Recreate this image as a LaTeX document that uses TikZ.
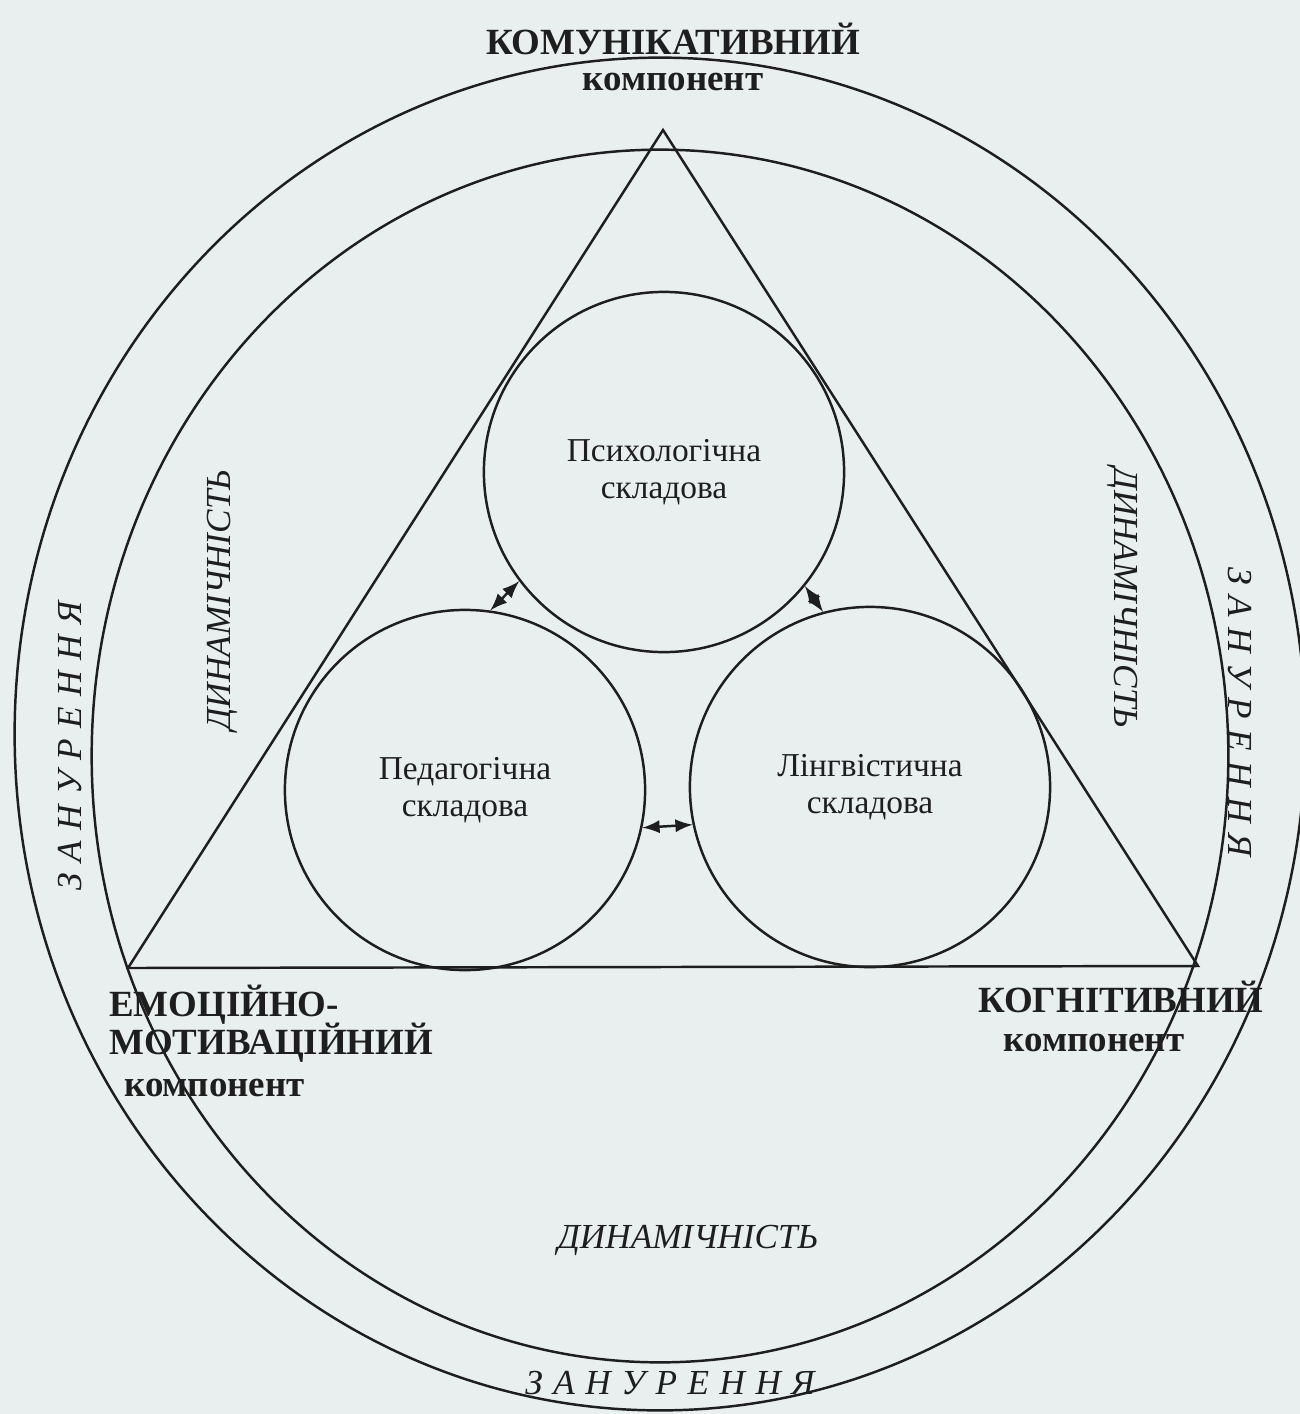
\documentclass[tikz,border=0pt]{standalone}
\usepackage{fontspec}
\setmainfont{Liberation Serif}
\usetikzlibrary{arrows, positioning}

\definecolor{paper}{HTML}{E9EEEE}
\definecolor{ink}{HTML}{1E1E1E}

\tikzset{
  comp/.style={font=\fontsize{10.5}{11.5}\selectfont\bfseries, inner sep=0pt},
  sub/.style={font=\fontsize{10.5}{11.5}\selectfont\bfseries, inner sep=0pt},
  part/.style={draw, circle, minimum size=3.6cm, align=center,
    font=\fontsize{9.5}{10.5}\selectfont},
  dyn/.style={font=\fontsize{10}{11}\selectfont\itshape, inner sep=0pt},
  zan/.style={font=\fontsize{10}{11}\selectfont\itshape\addfontfeature{LetterSpace=30}, inner sep=0pt}
}

\begin{document}
\begin{tikzpicture}[x=0.01cm, y=-0.01cm, line width=0.7pt, color=ink, >=latex]
  \useasboundingbox (0,0) rectangle (1300,1414);
  \fill[paper] (0,0) rectangle (1300,1414);
  % outer rings
  \draw (660,734) ellipse [x radius=6.45cm, y radius=6.76cm];
  \draw (660,756) ellipse [x radius=5.68cm, y radius=6.06cm];
  % triangle of the components
  \coordinate (apex) at (663,130);
  \coordinate (bl) at (128,968);
  \coordinate (br) at (1198,966);
  \draw (apex) -- (bl) -- (br) -- cycle;
  % the three parts
  \node[part] (psy) at (664,472) {Психологічна\\складова};
  \node[part] (ped) at (465,790) {Педагогічна\\складова};
  \node[part] (lin) at (870,787) {Лінгвістична\\складова};
  \draw[<->] (ped.82) -- (psy.217);
  \draw[<->] (psy.-39) -- (lin.105);
  \draw[<->] (ped.-12) -- (lin.192);
  % components
  \node[comp] (kom) at (673,39) {КОМУНІКАТИВНИЙ};
  \node[sub] (komc) at (673,82) {компонент};
  \node[comp, anchor=west] (emo1) at (108,1005) {ЕМОЦІЙНО-};
  \node[comp, anchor=west] (emo2) at (108,1043) {МОТИВАЦІЙНИЙ};
  \node[sub, anchor=west] (emoc) at (123,1088) {компонент};
  \node[comp] (kog) at (1121,997) {КОГНІТИВНИЙ};
  \node[sub] (kogc) at (1094,1043) {компонент};
  % dynamics and immersion
  \node[dyn, rotate=90] (dynl) at (222,600) {ДИНАМІЧНІСТЬ};
  \node[dyn, rotate=-90] (dynr) at (1123,598) {ДИНАМІЧНІСТЬ};
  \node[dyn] (dynb) at (688,1240) {ДИНАМІЧНІСТЬ};
  \node[zan, rotate=90] (zanl) at (70,746) {ЗАНУРЕННЯ};
  \node[zan, rotate=-90] (zanr) at (1240,712) {ЗАНУРЕННЯ};
  \node[zan] (zanb) at (670,1383) {ЗАНУРЕННЯ};
\end{tikzpicture}
\end{document}
